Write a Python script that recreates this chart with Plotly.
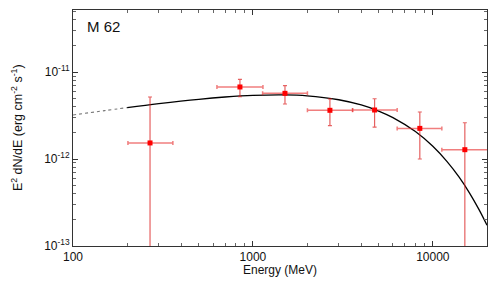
import plotly.graph_objects as go

# Data points (MeV, erg cm^-2 s^-1)
energy = [268, 847, 1507, 2679, 4745, 8466, 15060]
e_lo = [202, 631, 1132, 2009, 3580, 6335, 11220]
e_hi = [359, 1137, 2009, 3580, 6335, 11220, 22000]
flux = [1.53e-12, 6.73e-12, 5.69e-12, 3.63e-12, 3.66e-12, 2.25e-12, 1.28e-12]
flux_hi = [5.16e-12, 8.24e-12, 6.97e-12, 4.9e-12, 4.93e-12, 3.47e-12, 2.61e-12]
flux_lo = [1e-14, 5.2e-12, 4.29e-12, 2.42e-12, 2.33e-12, 1.0e-12, 1e-14]

# Model curve
model_e_dot = [100, 150, 200]
model_f_dot = [3.21e-12, 3.60e-12, 3.90e-12]
model_e = [200, 300, 500, 700, 1000, 1500, 2000, 3000, 4000, 5000, 6000, 8000,
           10000, 12000, 14000, 16000, 18000, 20000]
model_f = [3.90e-12, 4.33e-12, 4.86e-12, 5.16e-12, 5.39e-12, 5.46e-12, 5.33e-12,
           4.80e-12, 4.18e-12, 3.56e-12, 2.99e-12, 2.07e-12, 1.40e-12, 9.33e-13,
           6.18e-13, 4.06e-13, 2.65e-13, 1.73e-13]

x_tickvals = [100, 1000, 10000]
x_ticktext = ["100", "1000", "10000"]
y_tickvals = [1e-13, 1e-12, 1e-11]
y_ticktext = ["10<sup>-13</sup>", "10<sup>-12</sup>", "10<sup>-11</sup>"]
label = "M 62"
x_title = "Energy (MeV)"
y_title = "E<sup>2</sup> dN/dE (erg cm<sup>-2</sup> s<sup>-1</sup>)"

fig = go.Figure()
fig.add_trace(go.Scatter(x=model_e_dot, y=model_f_dot, mode="lines", line_shape="spline",
                         line=dict(color="#777", width=1.1, dash="dot"), showlegend=False))
fig.add_trace(go.Scatter(x=model_e, y=model_f, mode="lines", line_shape="spline",
                         line=dict(color="black", width=1.3), showlegend=False))
fig.add_trace(go.Scatter(
    x=energy, y=flux, mode="markers",
    marker=dict(symbol="square", size=5, color="#ff0000"),
    error_x=dict(type="data", symmetric=False,
                 array=[h - e for h, e in zip(e_hi, energy)],
                 arrayminus=[e - l for l, e in zip(e_lo, energy)],
                 color="rgba(230,40,40,0.6)", thickness=1.5, width=2),
    error_y=dict(type="data", symmetric=False,
                 array=[h - f for h, f in zip(flux_hi, flux)],
                 arrayminus=[f - l for l, f in zip(flux_lo, flux)],
                 color="rgba(220,30,30,0.7)", thickness=1.2, width=2),
    showlegend=False))

minor_x = [v * m for v in [100, 1000, 10000] for m in range(2, 10) if v * m <= 20000]
minor_y = [v * m for v in [1e-13, 1e-12, 1e-11] for m in range(2, 10)]

axis_common = dict(showgrid=False, zeroline=False, showline=True, linecolor="#333",
                   linewidth=1, mirror="allticks", ticks="inside", ticklen=5,
                   tickcolor="#333", tickfont=dict(size=12, color="#111"), automargin=False)
fig.update_xaxes(type="log", range=[2, 4.301], tickvals=x_tickvals, ticktext=x_ticktext,
                 minor=dict(ticks="inside", ticklen=3, tickcolor="#666", tickvals=minor_x),
                 **axis_common)
fig.update_yaxes(type="log", range=[-13, -10.287], tickvals=y_tickvals, ticktext=y_ticktext,
                 minor=dict(ticks="inside", ticklen=3, tickcolor="#666", tickvals=minor_y),
                 **axis_common)
fig.add_annotation(x=0.03, y=0.93, xref="paper", yref="paper", text=label, showarrow=False,
                   xanchor="left", yanchor="middle", font=dict(size=15, color="#111"))
fig.add_annotation(x=0.5, y=-0.10, xref="paper", yref="paper", text=x_title, showarrow=False,
                   xanchor="center", yanchor="middle", font=dict(size=12, color="#111"))
fig.add_annotation(x=-0.135, y=0.5, xref="paper", yref="paper", text=y_title, showarrow=False,
                   textangle=-90, xanchor="center", yanchor="middle",
                   font=dict(size=12.5, color="#111"))
fig.update_layout(width=491, height=284, margin=dict(l=73, r=4, t=10, b=38),
                  plot_bgcolor="white", paper_bgcolor="white",
                  font=dict(family="Liberation Sans, Arial, sans-serif"))
fig.write_html("out.html", config={"displayModeBar": False},
               post_script="document.body.style.margin='0';document.body.style.overflow='hidden';")
